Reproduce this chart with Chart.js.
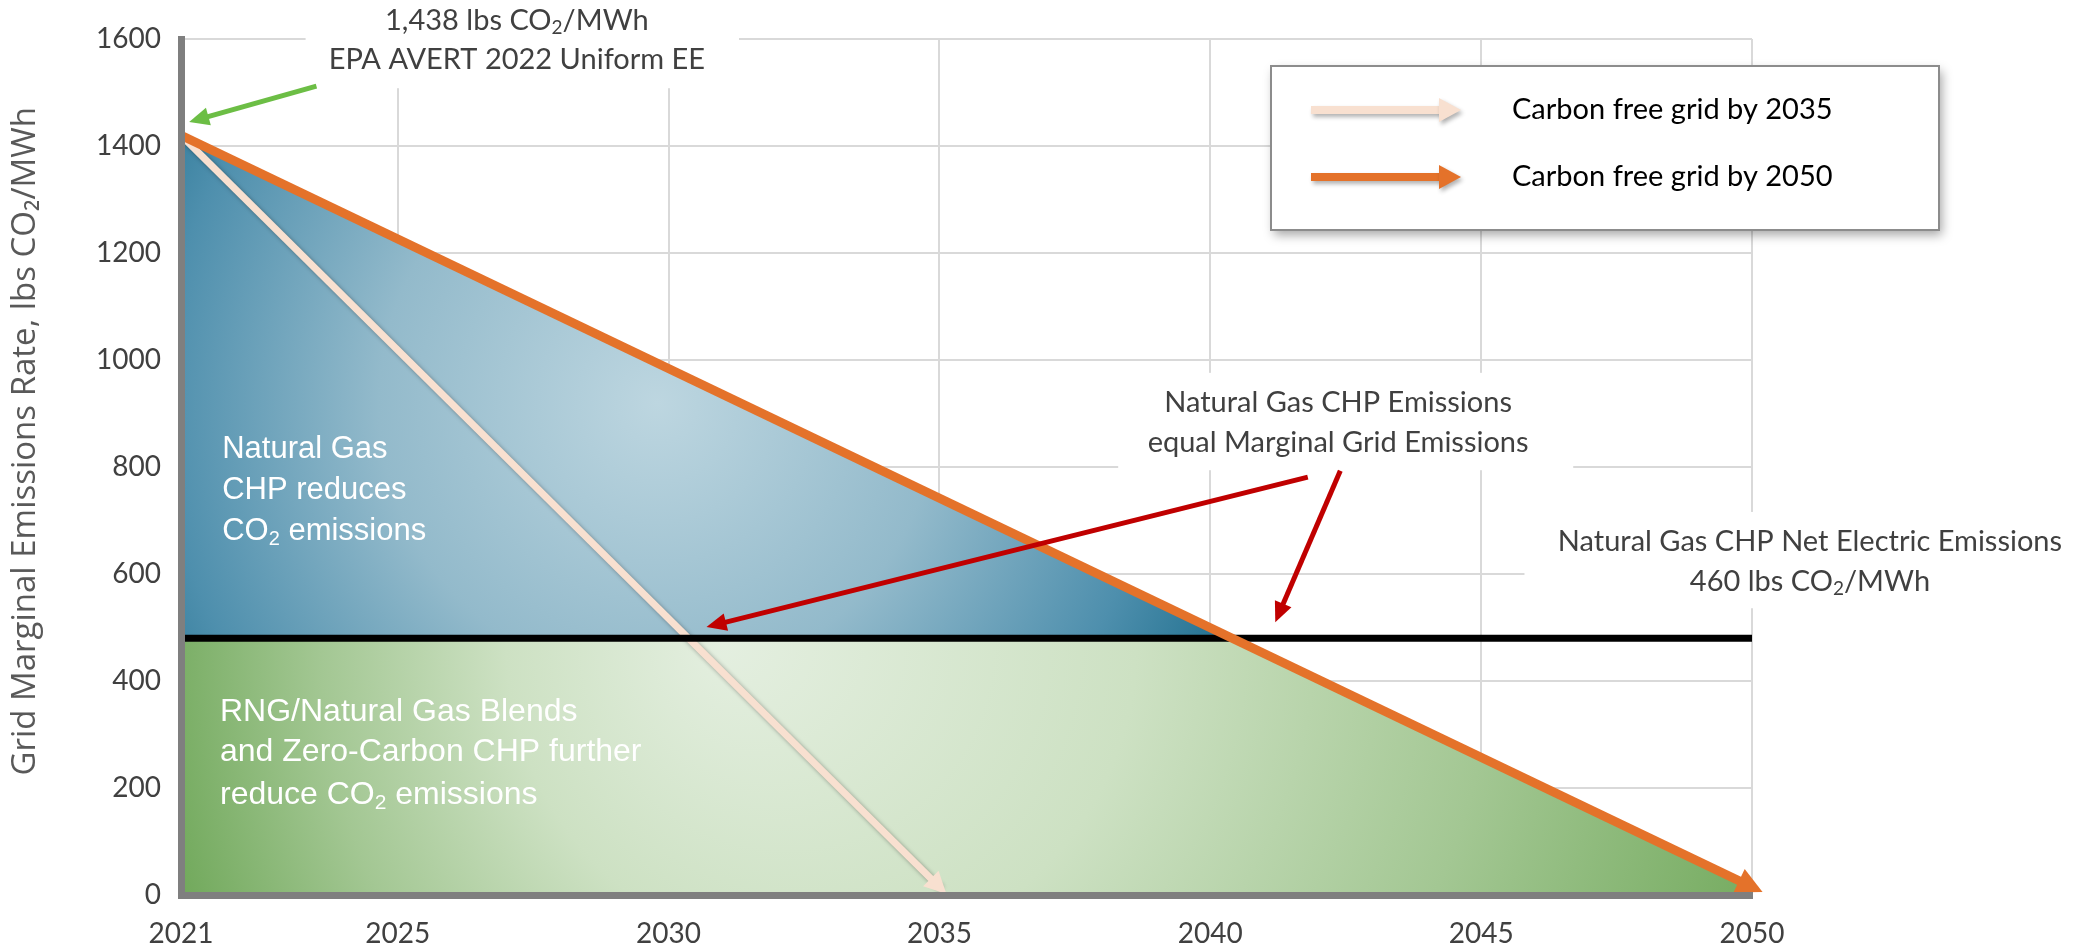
<!DOCTYPE html>
<html>
<head>
<meta charset="utf-8">
<script src="https://cdn.jsdelivr.net/npm/chart.js@4.4.1/dist/chart.umd.min.js"></script>
<style>
  html, body { margin: 0; padding: 0; background: #fff; }
</style>
</head>
<body>
<canvas id="chart" width="2088" height="947"></canvas>
<script>
// data
var seriesNames = ['Carbon free grid by 2035', 'Carbon free grid by 2050'];
var seriesColors = ['#F8E0D0', '#E4722A'];
var startYear = 2021;
var startRate = 1420;          // lbs CO2/MWh at 2021
var endYears = [2035, 2050];
var endRates = [15, 15];
var chpYears = [2021, 2050];
var chpRates = [480, 480];     // net electric emissions line as drawn
var xTicks = [2021, 2025, 2030, 2035, 2040, 2045, 2050];
var yMax = 1600;
var yStep = 200;

// year where the 2050 path crosses the CHP line (bounds of the blue/green areas)
var crossYear = startYear + (startRate - chpRates[0]) / (startRate - endRates[1]) * (endYears[1] - startYear);

var pathData = endYears.map(function (yr, i) {
    return [{x: startYear, y: startRate}, {x: yr, y: endRates[i]}];
});
var chpData = chpYears.map(function (yr, i) { return {x: yr, y: chpRates[i]}; });
var greenData = [
    {x: startYear, y: chpRates[0]},
    {x: crossYear, y: chpRates[0]},
    {x: endYears[1], y: endRates[1]}
];

function blueFill(context) {
    var chart = context.chart;
    if (!chart.chartArea) return 'rgba(0,0,0,0)';
    var cx = chart.scales.x.getPixelForValue(2029.8);
    var cy = chart.scales.y.getPixelForValue(920);
    var g = chart.ctx.createRadialGradient(cx, cy, 0, cx, cy, 620);
    g.addColorStop(0, '#BDD6E0');
    g.addColorStop(0.45, '#93BACB');
    g.addColorStop(0.8, '#4E8FAD');
    g.addColorStop(1, '#21708F');
    return g;
}

function greenFill(context) {
    var chart = context.chart;
    if (!chart.chartArea) return 'rgba(0,0,0,0)';
    var xs = chart.scales.x, ys = chart.scales.y;
    var fx = xs.getPixelForValue(2031), fy = ys.getPixelForValue(470);
    var cx = xs.getPixelForValue(2036.2);
    var g = chart.ctx.createRadialGradient(fx, fy, 0, cx, fy, 900);
    g.addColorStop(0, '#E4EFE0');
    g.addColorStop(0.35, '#CDE1C3');
    g.addColorStop(0.65, '#A3C793');
    g.addColorStop(1, '#66A24F');
    return g;
}

function drawRich(ctx, text, x, y, size, family, color, align) {
    var main = size + 'px ' + family;
    var sub = Math.round(size * 0.66) + 'px ' + family;
    var parts = text.split('\u2082');
    var w = 0;
    parts.forEach(function (p, i) {
        ctx.font = main; w += ctx.measureText(p).width;
        if (i < parts.length - 1) { ctx.font = sub; w += ctx.measureText('2').width; }
    });
    var px = align === 'center' ? x - w / 2 : x;
    ctx.fillStyle = color;
    ctx.textAlign = 'left';
    ctx.textBaseline = 'middle';
    parts.forEach(function (p, i) {
        ctx.font = main; ctx.fillText(p, px, y); px += ctx.measureText(p).width;
        if (i < parts.length - 1) {
            ctx.font = sub; ctx.fillText('2', px, y + size * 0.25); px += ctx.measureText('2').width;
        }
    });
}

function arrowHead(ctx, x1, y1, x2, y2, len, half, color) {
    var a = Math.atan2(y2 - y1, x2 - x1);
    ctx.save();
    ctx.translate(x2, y2);
    ctx.rotate(a);
    ctx.beginPath();
    ctx.moveTo(0, 0);
    ctx.lineTo(-len, -half);
    ctx.lineTo(-len, half);
    ctx.closePath();
    ctx.fillStyle = color;
    ctx.fill();
    ctx.restore();
}

function arrow(ctx, x1, y1, x2, y2, width, len, half, color) {
    var a = Math.atan2(y2 - y1, x2 - x1);
    ctx.save();
    ctx.strokeStyle = color;
    ctx.lineWidth = width;
    ctx.beginPath();
    ctx.moveTo(x1, y1);
    ctx.lineTo(x2 - Math.cos(a) * len * 0.8, y2 - Math.sin(a) * len * 0.8);
    ctx.stroke();
    ctx.restore();
    arrowHead(ctx, x1, y1, x2, y2, len, half, color);
}

// labels, call-outs and the boxed legend
var notesPlugin = {
    id: 'notes',
    beforeDatasetsDraw: function (chart, args, opts) {
        var ctx = chart.ctx, xs = chart.scales.x, ys = chart.scales.y;
        ctx.save();
        ctx.fillStyle = '#FFFFFF';
        opts.texts.forEach(function (t) {
            if (!t.box) return;
            var l = xs.getPixelForValue(t.box[0]), tp = ys.getPixelForValue(t.box[1]);
            var r = xs.getPixelForValue(t.box[2]), b = ys.getPixelForValue(t.box[3]);
            ctx.fillRect(l, tp, r - l, b - tp);
        });
        ctx.restore();
    },
    beforeDatasetDraw: function (chart, args) {
        var ds = chart.data.datasets[args.index];
        chart.ctx.save();
        if (ds.shadow) {
            chart.ctx.shadowColor = 'rgba(0,0,0,0.35)';
            chart.ctx.shadowBlur = 4;
            chart.ctx.shadowOffsetX = 2;
            chart.ctx.shadowOffsetY = 2;
        }
    },
    afterDatasetDraw: function (chart) {
        chart.ctx.restore();
    },
    afterDatasetsDraw: function (chart, args, opts) {
        var ctx = chart.ctx, xs = chart.scales.x, ys = chart.scales.y;
        ctx.save();

        // arrow heads at the end of the two paths
        chart.data.datasets.forEach(function (ds, i) {
            if (!ds.arrowHead) return;
            var pts = chart.getDatasetMeta(i).data;
            var p0 = pts[pts.length - 2], p1 = pts[pts.length - 1];
            var a = Math.atan2(p1.y - p0.y, p1.x - p0.x);
            var len = ds.arrowHead[0];
            arrowHead(ctx, p0.x, p0.y, p1.x + Math.cos(a) * len * 0.45, p1.y + Math.sin(a) * len * 0.45,
                len, ds.arrowHead[1], ds.borderColor);
        });

        opts.arrows.forEach(function (a) {
            arrow(ctx, xs.getPixelForValue(a.from[0]), ys.getPixelForValue(a.from[1]),
                xs.getPixelForValue(a.to[0]), ys.getPixelForValue(a.to[1]), 5, 20, 9, a.color);
        });

        opts.texts.forEach(function (t) {
            var x = xs.getPixelForValue(t.x);
            t.lines.forEach(function (line, k) {
                drawRich(ctx, line, x, ys.getPixelForValue(t.ys[k]), t.size, t.family, t.color, t.align);
            });
        });

        // legend
        var L = opts.legend;
        ctx.save();
        ctx.shadowColor = 'rgba(0,0,0,0.35)';
        ctx.shadowBlur = 10;
        ctx.shadowOffsetX = 3;
        ctx.shadowOffsetY = 5;
        ctx.fillStyle = '#FFFFFF';
        ctx.fillRect(L.x, L.y, L.w, L.h);
        ctx.restore();
        ctx.strokeStyle = '#8C8C8C';
        ctx.lineWidth = 2;
        ctx.strokeRect(L.x, L.y, L.w, L.h);
        seriesNames.forEach(function (name, i) {
            var yy = L.y + 44 + i * 67;
            ctx.save();
            ctx.shadowColor = 'rgba(0,0,0,0.3)';
            ctx.shadowBlur = 4;
            ctx.shadowOffsetX = 2;
            ctx.shadowOffsetY = 3;
            arrow(ctx, L.x + 40, yy, L.x + 190, yy, 8, 22, 12, seriesColors[i]);
            ctx.restore();
            drawRich(ctx, name, L.x + 241, yy, 29, 'Lato, sans-serif', '#000000', 'left');
        });
        ctx.restore();
    }
};

var ctx = document.getElementById('chart').getContext('2d');
var chart = new Chart(ctx, {
    type: 'line',
    data: {
        datasets: [{
            label: seriesNames[1],
            data: pathData[1],
            borderColor: seriesColors[1],
            borderWidth: 9,
            backgroundColor: blueFill,
            fill: {target: {value: chpRates[0]}, below: 'rgba(0,0,0,0)'},
            arrowHead: [26, 13],
            order: 0
        }, {
            label: 'Natural Gas CHP Net Electric Emissions',
            data: chpData,
            borderColor: '#000000',
            borderWidth: 7,
            fill: false,
            order: 1
        }, {
            label: seriesNames[0],
            data: pathData[0],
            borderColor: seriesColors[0],
            borderWidth: 7,
            fill: false,
            shadow: true,
            arrowHead: [22, 11],
            order: 2
        }, {
            label: 'green area',
            data: greenData,
            borderWidth: 0,
            borderColor: 'rgba(0,0,0,0)',
            backgroundColor: greenFill,
            fill: 'origin',
            order: 3
        }]
    },
    options: {
        responsive: false,
        animation: false,
        layout: {padding: {top: 39, right: 336, bottom: 0, left: 0}},
        elements: {
            point: {radius: 0, hoverRadius: 0},
            line: {tension: 0, borderCapStyle: 'butt'}
        },
        scales: {
            x: {
                type: 'linear',
                min: 2021,
                max: 2050,
                afterBuildTicks: function (scale) {
                    scale.ticks = xTicks.map(function (v) { return {value: v}; });
                },
                afterFit: function (scale) { scale.height = 52; },
                ticks: {
                    callback: function (v) { return String(v); },
                    font: {family: 'Lato, sans-serif', size: 28},
                    color: '#404040',
                    padding: 22,
                    maxRotation: 0
                },
                grid: {color: '#D9D9D9', lineWidth: 2, drawTicks: false},
                border: {display: true, color: '#7F7F7F', width: 7, z: 1}
            },
            y: {
                min: 0,
                max: yMax,
                afterFit: function (scale) { scale.width = 181; },
                ticks: {
                    stepSize: yStep,
                    callback: function (v) { return String(v); },
                    font: {family: 'Lato, sans-serif', size: 28},
                    color: '#404040',
                    padding: 20
                },
                grid: {color: '#D9D9D9', lineWidth: 2, drawTicks: false},
                border: {display: true, color: '#7F7F7F', width: 7, z: 1},
                title: {
                    display: true,
                    // leading spaces nudge the centred title up, as in the original
                    text: '      Grid Marginal Emissions Rate, lbs CO\u2082/MWh',
                    font: {family: '"Open Sans", sans-serif', size: 33},
                    color: '#595959',
                    padding: {top: 6, bottom: 0}
                }
            }
        },
        plugins: {
            legend: {display: false},
            tooltip: {enabled: false},
            filler: {drawTime: 'beforeDatasetsDraw'},
            notes: {
                texts: [
                    {lines: ['1,438 lbs CO\u2082/MWh', 'EPA AVERT 2022 Uniform EE'], x: 2027.2, ys: [1634, 1561],
                        size: 29, family: 'Lato, sans-serif', color: '#404040', align: 'center',
                        box: [2023.3, 1680, 2031.3, 1508]},
                    {lines: ['Natural Gas CHP Emissions', 'equal Marginal Grid Emissions'], x: 2042.36, ys: [920, 845],
                        size: 29, family: 'Lato, sans-serif', color: '#404040', align: 'center',
                        box: [2038.3, 976, 2046.7, 794]},
                    {lines: ['Natural Gas CHP Net Electric Emissions', '460 lbs CO\u2082/MWh'], x: 2051.07, ys: [660, 585],
                        size: 29, family: 'Lato, sans-serif', color: '#404040', align: 'center',
                        box: [2045.8, 716, 2057, 536]},
                    {lines: ['Natural Gas', 'CHP reduces', 'CO\u2082 emissions'], x: 2021.76, ys: [832, 757, 679],
                        size: 31, family: '"Liberation Sans", Arial, sans-serif', color: '#FFFFFF', align: 'left'},
                    {lines: ['RNG/Natural Gas Blends', 'and Zero-Carbon CHP further', 'reduce CO\u2082 emissions'],
                        x: 2021.72, ys: [342, 267, 187],
                        size: 32, family: '"Liberation Sans", Arial, sans-serif', color: '#FFFFFF', align: 'left'}
                ],
                arrows: [
                    {from: [2023.5, 1512], to: [2021.15, 1445], color: '#6CBE45'},
                    {from: [2041.8, 781], to: [2030.7, 501], color: '#C00000'},
                    {from: [2042.4, 793], to: [2041.2, 510], color: '#C00000'}
                ],
                legend: {x: 1271, y: 66, w: 668, h: 164}
            }
        }
    },
    plugins: [notesPlugin]
});
</script>
</body>
</html>
